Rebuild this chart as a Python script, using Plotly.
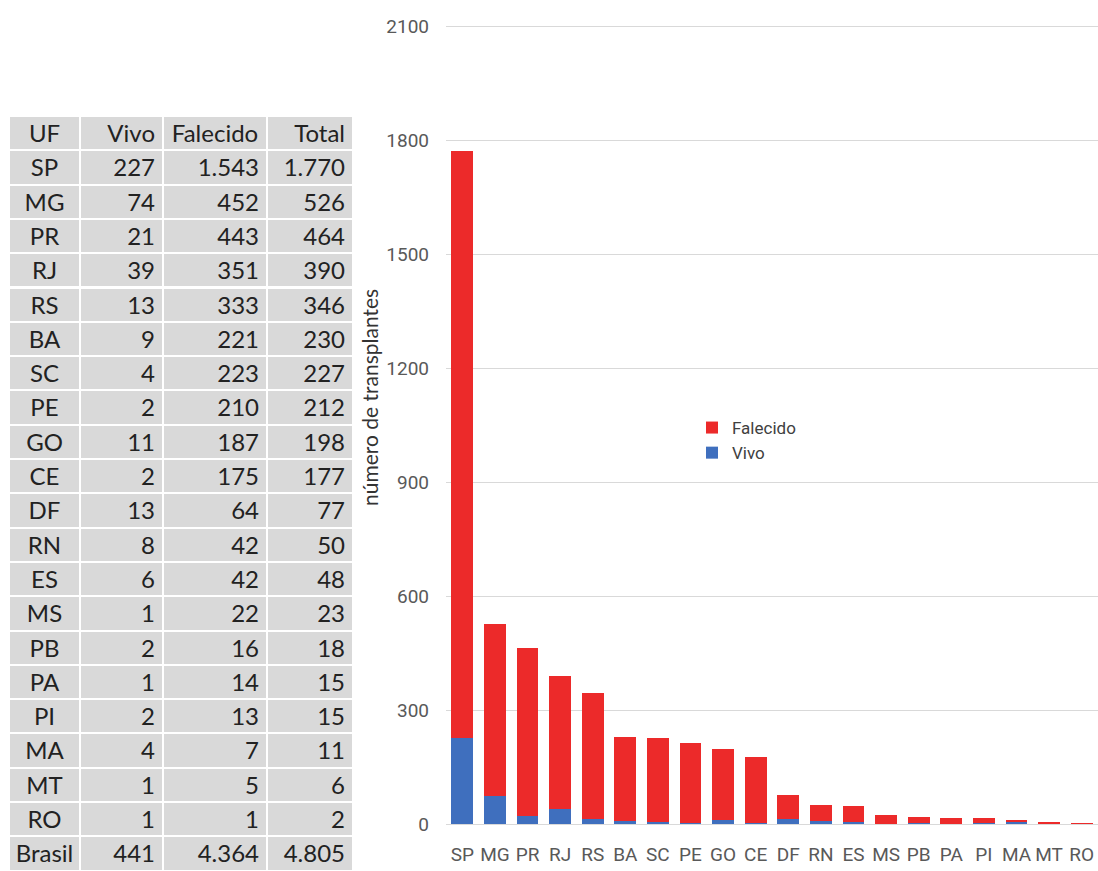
import plotly.graph_objects as go

# Transplantes por UF: doador vivo x falecido
uf = ["SP", "MG", "PR", "RJ", "RS", "BA", "SC", "PE", "GO", "CE",
      "DF", "RN", "ES", "MS", "PB", "PA", "PI", "MA", "MT", "RO"]
vivo = [227, 74, 21, 39, 13, 9, 4, 2, 11, 2, 13, 8, 6, 1, 2, 1, 2, 4, 1, 1]
falecido = [1543, 452, 443, 351, 333, 221, 223, 210, 187, 175,
            64, 42, 42, 22, 16, 14, 13, 7, 5, 1]
y_ticks = [0, 300, 600, 900, 1200, 1500, 1800, 2100]

RED = "#EC2A2A"
BLUE = "#3F6FBE"
GRID = "#D9D9D9"
CHART_FONT = "Roboto, Liberation Sans, sans-serif"
BODY = "Lato, sans-serif"

W, H = 1098, 871


def fmt(n):
    return f"{n:,}".replace(",", ".")


total = [v + f for v, f in zip(vivo, falecido)]
col_uf = uf + ["Brasil"]
col_vivo = [fmt(v) for v in vivo] + [fmt(sum(vivo))]
col_fal = [fmt(v) for v in falecido] + [fmt(sum(falecido))]
col_tot = [fmt(v) for v in total] + [fmt(sum(total))]

ROW_H = 34.3

# eixo y: 0 em y=824 px, 2100 em y=26 px; faixa um pouco acima de 2100
Y_MAX = 2130
px_per_unit = (824 - 26) / 2100
y_top_px = 824 - Y_MAX * px_per_unit

fig = go.Figure()

# Tabela à esquerda
fig.add_trace(go.Table(
    domain=dict(x=[9 / W, 353 / W], y=[0, 1 - 116 / H]),
    columnwidth=[71, 83, 104, 86],
    header=dict(
        values=["UF", "Vivo", "Falecido", "Total"],
        fill_color=GRID,
        line=dict(color="white", width=2),
        align=["center", "right", "center", "right"],
        font=dict(family=BODY, size=24, color="#222222"),
        height=ROW_H,
    ),
    cells=dict(
        values=[col_uf, col_vivo, col_fal, col_tot],
        fill_color=GRID,
        line=dict(color="white", width=2),
        align=["center", "right", "right", "right"],
        font=dict(family=BODY, size=24, color="#222222"),
        height=ROW_H,
    ),
))

# Barras empilhadas
fig.add_trace(go.Bar(x=uf, y=vivo, name="Vivo", marker=dict(color=BLUE, line=dict(width=0))))
fig.add_trace(go.Bar(x=uf, y=falecido, name="Falecido", marker=dict(color=RED, line=dict(width=0))))

fig.update_layout(
    width=W, height=H,
    margin=dict(l=0, r=0, t=0, b=0, autoexpand=False),
    paper_bgcolor="white",
    plot_bgcolor="white",
    barmode="stack",
    bargap=0.33,
    showlegend=True,
    legend=dict(
        x=692 / W, y=1 - 410 / H, xanchor="left", yanchor="top",
        traceorder="reversed",
        bgcolor="rgba(0,0,0,0)",
        font=dict(family=CHART_FONT, size=17, color="#404040"),
        itemwidth=30,
    ),
    xaxis=dict(
        domain=[446 / W, 1.0],
        automargin=False,
        showgrid=False,
        showline=False,
        tickfont=dict(family=CHART_FONT, size=19, color="#595959"),
        ticklabelstandoff=17,
        fixedrange=True,
    ),
    yaxis=dict(
        domain=[(H - 824) / H, (H - y_top_px) / H],
        range=[0, Y_MAX],
        automargin=False,
        tickvals=y_ticks,
        showgrid=True,
        gridcolor=GRID,
        gridwidth=1,
        zeroline=True,
        zerolinecolor=GRID,
        zerolinewidth=1,
        showline=False,
        tickfont=dict(family=CHART_FONT, size=19, color="#595959"),
        ticklabelstandoff=16,
    ),
    annotations=[dict(
        text="número de transplantes",
        x=369 / W, y=1 - 398 / H, xref="paper", yref="paper",
        xanchor="center", yanchor="middle",
        textangle=-90, showarrow=False,
        font=dict(family=BODY, size=21, color="#333333"),
    )],
)

fig.write_html("out.html")
